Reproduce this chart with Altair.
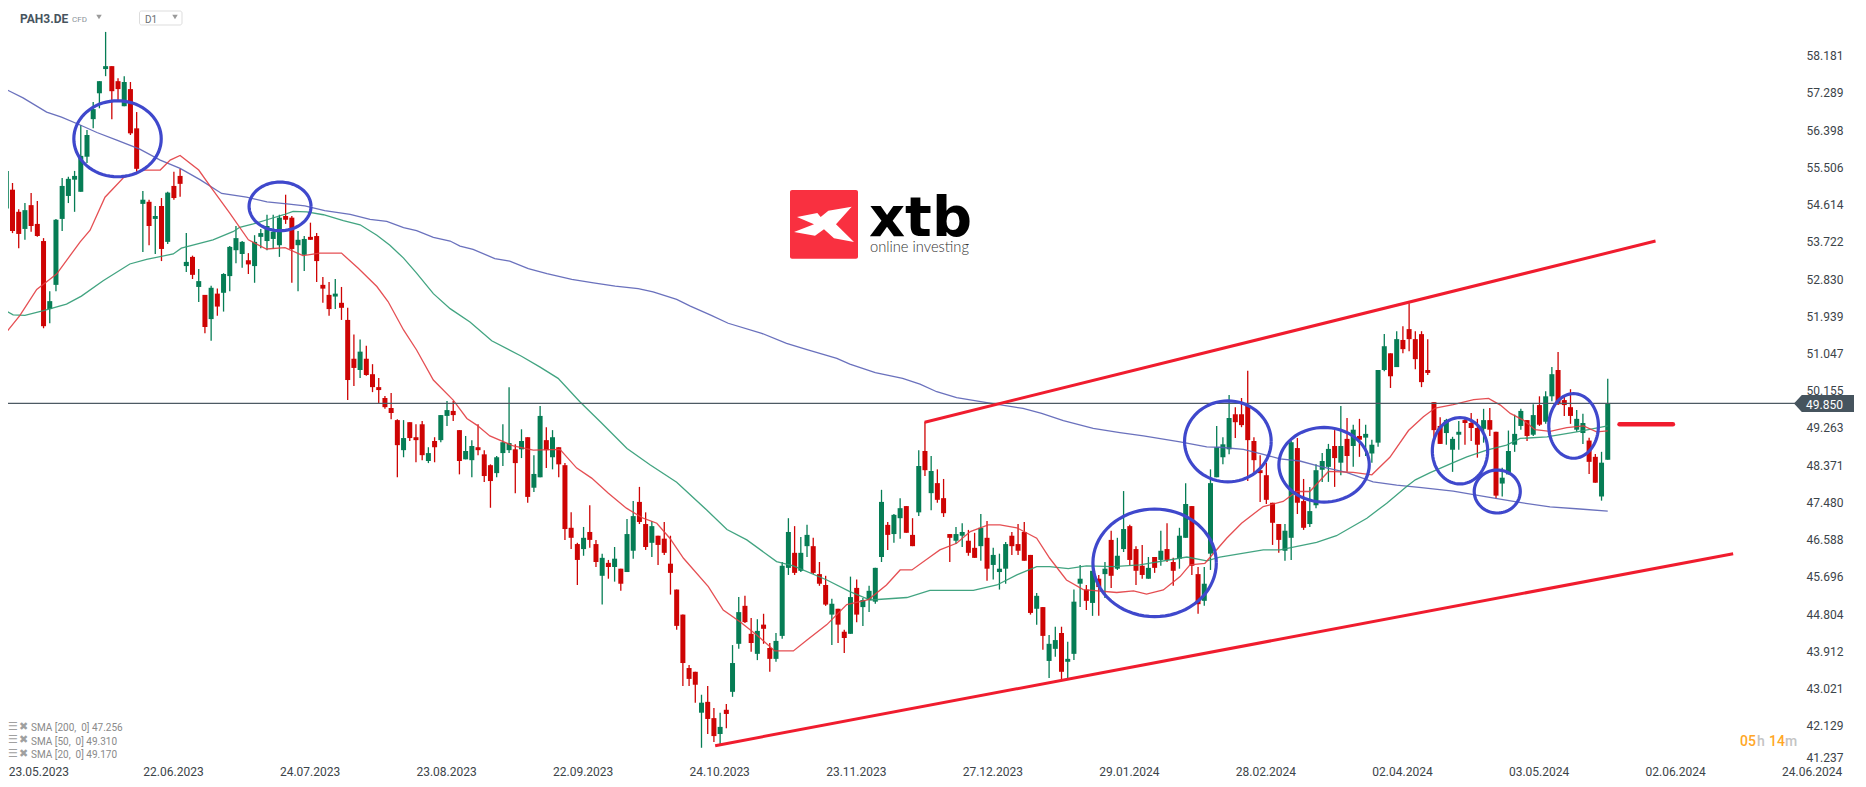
import numpy as np
import pandas as pd
import altair as alt

# candles, one entry per trading day, prices
highs = [55.80,55.13,54.50,54.65,54.89,54.70,53.81,52.54,54.27,55.25,
         55.28,55.42,56.52,56.40,57.07,57.57,58.75,57.93,57.64,57.69,
         57.55,56.83,54.94,54.73,54.58,54.77,54.92,55.40,55.47,53.93,
         53.39,53.07,52.45,52.67,52.60,52.97,53.62,54.10,53.74,53.45,
         53.88,54.03,54.37,54.37,54.37,54.85,54.34,53.98,53.86,54.18,
         53.93,52.88,52.76,52.83,52.64,52.14,51.50,51.38,51.23,50.79,
         50.46,50.03,50.10,49.47,49.45,49.40,49.35,49.43,48.80,49.04,
         49.57,49.91,49.91,49.21,49.07,48.97,49.35,48.73,48.39,48.59,
         49.35,50.24,48.87,49.23,49.04,48.61,49.79,49.28,49.21,48.80,
         48.42,47.24,46.51,46.89,47.41,46.58,46.25,46.10,46.41,45.89,
         47.08,47.51,47.85,47.24,47.03,46.68,47.01,46.68,45.39,44.79,
         43.58,43.42,42.87,43.08,42.55,42.44,42.65,44.06,45.21,45.24,
         44.71,44.68,44.81,44.11,44.35,46.05,47.10,46.91,46.65,46.94,
         46.63,46.05,45.72,45.17,44.93,44.43,45.70,45.63,45.19,45.48,
         45.91,47.78,47.01,47.20,47.58,47.39,47.10,48.73,49.41,48.59,
         48.27,48.04,46.72,46.89,46.98,46.82,46.75,47.20,47.03,46.39,
         46.25,46.53,46.77,46.96,47.01,46.22,45.31,44.97,44.30,44.50,
         44.50,44.14,45.39,45.98,45.50,46.01,45.74,46.05,46.80,46.63,
         47.75,46.94,46.43,46.46,46.17,46.17,46.80,46.98,46.15,46.87,
         47.94,47.39,45.93,45.93,48.27,49.31,49.04,50.05,49.76,49.98,
         50.63,49.04,48.61,48.42,47.47,46.96,46.96,48.95,49.02,48.04,
         47.85,48.39,48.66,48.88,49.21,49.79,49.50,49.34,49.48,49.34,
         48.98,50.65,51.51,51.05,51.58,51.70,52.25,51.58,51.58,51.39,
         49.88,49.52,49.48,49.05,49.43,49.48,49.62,49.48,49.72,49.74,
         49.17,48.31,49.20,49.58,49.72,49.45,49.83,50.02,50.14,50.72,
         51.08,50.05,50.19,49.69,49.60,49.03,48.64,48.69,50.44]

body_tops = [55.42,54.97,54.44,54.48,54.60,54.15,53.74,52.30,54.25,55.06,
             55.23,55.30,55.78,56.28,56.90,57.57,57.93,57.93,57.57,57.55,
             57.38,56.44,54.73,54.68,54.34,54.58,54.90,55.06,55.30,53.24,
             53.36,52.78,52.45,52.62,52.48,52.95,53.60,53.81,53.72,53.28,
             53.72,53.93,54.10,53.96,54.30,54.34,54.30,53.77,53.79,53.84,
             53.86,52.69,52.45,52.48,52.26,51.85,50.92,51.09,50.92,50.55,
             50.24,49.98,49.74,49.45,49.02,49.40,49.04,49.35,48.66,48.95,
             49.57,49.69,49.67,49.21,48.71,48.83,48.80,48.63,48.37,48.56,
             48.92,48.90,48.75,48.95,49.04,48.16,49.55,48.97,49.04,48.80,
             48.37,46.87,46.48,46.63,46.77,46.48,46.15,46.03,46.13,45.89,
             46.72,47.15,47.49,46.96,46.91,46.68,46.61,46.01,45.39,44.79,
             43.51,43.42,42.68,42.70,42.31,42.10,42.51,43.63,44.85,45.00,
             44.33,44.40,44.55,43.99,44.16,45.96,46.77,46.27,46.27,46.70,
             46.43,45.76,45.50,45.05,44.93,44.38,45.21,45.43,45.14,45.36,
             45.91,47.49,46.94,47.18,47.34,47.39,46.70,48.35,48.71,48.23,
             47.94,47.58,46.72,46.72,46.77,46.56,46.39,46.87,46.63,46.22,
             45.89,46.48,46.68,46.48,46.77,46.22,45.24,44.97,44.09,44.18,
             44.35,43.73,45.10,45.65,45.39,45.84,45.65,45.89,46.58,46.20,
             46.84,46.91,46.36,45.96,45.91,46.17,46.32,46.36,46.05,46.68,
             47.44,47.39,45.76,45.53,47.94,48.80,48.87,49.50,49.59,49.59,
             49.79,48.95,48.25,48.13,47.47,46.96,46.80,48.92,48.78,47.51,
             47.27,48.25,48.47,48.76,48.83,48.83,49.00,49.22,49.07,49.12,
             48.86,50.65,51.22,51.05,51.39,51.37,51.63,51.39,51.51,50.65,
             49.88,49.31,49.45,49.00,49.17,49.45,49.38,49.26,49.45,49.45,
             49.17,48.07,48.71,49.12,49.67,49.45,49.57,49.81,50.02,50.55,
             50.65,49.93,49.76,49.48,49.38,48.96,48.57,48.43,49.85]

body_bottoms = [54.52,53.98,53.91,54.03,54.10,53.86,51.70,52.11,52.69,54.27,
                54.82,55.21,54.92,55.76,56.66,57.28,57.86,57.33,57.38,56.97,
                56.32,55.47,54.63,54.10,54.27,53.55,53.72,54.77,55.11,53.14,
                52.93,52.64,51.68,51.87,52.17,52.50,52.90,53.52,53.43,53.18,
                53.14,53.84,53.74,53.79,53.64,54.25,53.55,53.64,53.41,53.77,
                53.26,52.60,52.11,52.41,52.14,50.41,50.70,50.65,50.53,50.24,
                50.17,49.76,49.62,48.85,48.73,49.02,48.97,48.61,48.47,48.80,
                48.97,49.55,49.57,48.47,48.51,48.49,48.73,48.11,47.99,48.18,
                48.66,48.73,48.42,48.75,47.61,47.83,48.08,48.73,48.56,48.39,
                46.84,46.63,46.10,46.36,46.58,46.05,45.72,45.93,45.93,45.53,
                45.81,46.32,47.01,46.41,46.51,46.46,46.27,45.79,44.52,43.63,
                43.25,43.11,42.44,42.29,41.88,41.93,42.41,42.94,44.09,44.61,
                44.11,43.85,44.45,43.73,43.73,44.28,45.91,45.79,45.84,46.43,
                45.79,45.53,45.03,44.79,44.55,44.23,44.33,44.79,44.97,45.14,
                45.10,46.17,46.70,46.72,47.10,46.75,46.43,47.24,48.25,47.70,
                47.54,47.22,46.63,46.56,46.68,46.27,46.15,46.43,45.89,45.98,
                45.81,45.89,46.43,46.32,46.08,44.83,44.93,44.28,43.68,43.97,
                43.42,43.66,43.85,45.53,45.12,45.07,45.45,45.76,45.72,45.89,
                46.36,46.10,45.84,45.74,45.65,45.91,46.10,46.10,45.84,46.13,
                46.63,45.96,45.04,45.12,46.25,48.08,48.56,48.75,49.40,49.33,
                48.97,48.49,48.18,47.54,46.99,46.58,46.32,46.63,47.47,46.87,
                46.96,47.41,48.26,48.33,48.54,48.43,48.59,48.83,48.98,49.03,
                48.65,48.91,50.65,50.50,50.72,51.15,51.39,50.91,50.36,50.58,
                49.21,48.88,49.14,48.74,49.10,49.38,49.26,48.86,49.24,49.22,
                47.64,47.93,48.15,48.86,49.31,49.07,49.10,49.34,49.41,50.02,
                49.83,49.81,49.55,49.22,49.14,48.45,47.95,47.62,48.50]

lows = [54.45,53.93,53.57,53.77,53.96,53.84,51.65,51.77,52.54,53.98,
        54.65,54.44,54.92,55.61,56.44,56.92,57.69,56.66,57.09,56.97,
        56.28,55.40,53.48,53.64,53.43,53.26,53.67,54.73,54.80,53.00,
        52.83,52.28,51.53,51.35,51.95,52.05,52.54,53.21,53.10,52.95,
        52.74,53.57,53.52,53.55,53.36,54.15,52.74,52.54,53.02,53.77,
        52.76,52.26,51.95,52.11,51.85,49.93,50.27,50.46,50.51,50.12,
        49.85,49.72,49.47,48.08,48.56,48.95,48.44,48.49,48.42,48.44,
        48.92,49.31,49.43,48.15,48.51,48.08,48.61,47.97,47.35,48.08,
        48.35,48.66,47.70,48.54,47.47,47.73,48.08,48.30,48.27,48.08,
        46.58,46.36,45.50,46.20,46.39,45.93,45.03,45.65,45.58,45.36,
        45.81,46.13,46.96,46.34,46.17,45.98,46.22,45.27,44.43,43.08,
        43.08,42.68,41.60,41.93,41.74,41.67,42.07,42.82,43.97,44.59,
        43.90,43.70,44.09,43.42,43.66,44.21,45.74,45.74,45.81,46.17,
        45.76,45.48,45.00,44.06,44.11,43.87,44.33,44.61,44.52,44.85,
        45.05,46.05,46.34,46.51,46.61,46.75,46.43,47.15,48.11,47.29,
        47.47,47.13,46.05,46.48,46.41,46.20,46.15,46.08,45.60,45.63,
        45.39,45.53,46.22,46.22,46.08,44.79,44.55,43.95,43.27,43.78,
        43.23,43.25,43.70,44.97,44.90,44.76,44.76,45.19,45.43,45.86,
        46.29,45.96,45.50,45.65,45.65,45.79,45.96,46.05,45.48,45.89,
        46.63,45.74,44.81,45.00,45.86,48.08,48.39,48.63,49.02,49.28,
        47.99,48.20,47.49,47.44,46.46,46.27,46.08,46.10,47.20,46.82,
        46.89,47.34,47.97,47.97,47.85,48.13,48.21,48.33,48.57,48.59,
        48.43,48.81,50.62,50.22,50.72,51.05,51.10,50.67,50.24,50.53,
        49.03,48.88,48.86,48.21,48.74,48.86,48.95,48.55,48.91,49.07,
        47.57,47.62,48.15,48.69,49.22,48.95,49.07,49.31,49.36,49.90,
        49.81,49.55,49.36,49.17,48.88,48.16,47.95,47.52,48.50]

directions = list("GRRGRRRGGG" "GGGGGGGRRG" "RRGRGRGRRG" "RGRGRGGGGR"
                  "GGGGGRRGGR" "RRRGRRRGRR" "RRRRGRRRGR" "GGRRGGRRRG"
                  "GGRGRGGRGR" "RRRGRRGRGR" "GGRRGRRRRR" "RRGRRGRGGR"
                  "RGRRGGGRGG" "RRRGRRGRGG" "GGRGGRRGRG" "RRRGGRRGRG"
                  "GGRRRRGRGG" "RGGGRGRGRG" "GRRRGRGRRG" "GRRGGGGGRR"
                  "RRRRRRGGRR" "GGGGRGRGRG" "GGGRGRRRRR" "RRGGGRRRGR"
                  "RGGGGRGRGG" "RRRGGRRGG")

# moving averages, vertices: candle number, price
sma200_x = [0,2.7,6.5,8.9,11.9,14.6,17.8,21.5,24.8,28,31.2,34.7,38.7,42,45.2,48.1,51.3,55.4,58.6,61.3,64,66.1,68.8,71.5,
            73.1,75.2,78.7,81.1,84.1,87.1,91.1,94.6,98.1,101.8,104.2,108,110.2,113.4,116.3,121.7,125.7,129,133.8,135.9,140,144.4,
            147.2,149.9,153.1,158.7,163.8,166.8,170.3,175.1,179.4,183.2,189.1,193.4,195.5,199.3,202.5,205.2,208.4,211.6,215.9,220.2,224,228,233.1,238.5,243.3,248.7,253.5,258]
sma200_y = [57.37,57.17,56.83,56.71,56.52,56.34,56.16,55.94,55.68,55.48,55.21,54.88,54.79,54.68,54.63,54.58,54.47,54.38,54.26,54.21,54.06,53.99,53.83,53.74,
            53.62,53.54,53.32,53.26,53.08,52.96,52.82,52.74,52.66,52.60,52.52,52.34,52.18,51.97,51.77,51.53,51.29,51.14,50.93,50.79,50.59,50.45,
            50.31,50.13,49.99,49.85,49.73,49.61,49.44,49.25,49.15,49.07,48.93,48.81,48.80,48.75,48.63,48.52,48.47,48.34,48.20,47.97,47.89,47.83,47.75,47.61,47.49,47.37,47.32,47.27]

sma50_x = [0,1.1,3,6,9.7,12.1,15.6,19.9,22.6,26.9,28.2,33.3,36.6,37.6,39.8,42,44.7,46.2,48.4,51.1,54.3,57,59.7,61.8,64,66.1,68.8,71.5,
           74.7,78.2,83,86,88.9,92.4,95.7,100,103.7,108,112.8,116.1,119.3,124.1,126.8,132.2,135.9,139.2,145.1,148.8,
           155.8,159.6,162.8,166,168.1,171.1,174,178.4,182.6,190.2,193.4,195.5,202.5,205.2,211.1,214.3,219.2,222.4,225.6,227,229.4,233.1,235.3,238.5,241.7,243.9,248.2,253,258]
sma50_y = [52.06,51.97,51.96,52.07,52.23,52.42,52.79,53.19,53.30,53.43,53.57,53.77,53.97,54.07,54.15,54.25,54.37,54.45,54.44,54.37,54.23,54.13,53.88,53.64,53.33,52.97,52.48,52.12,
           51.80,51.35,50.98,50.72,50.45,49.89,49.41,48.77,48.38,47.96,47.30,46.83,46.58,46.06,45.96,45.62,45.34,45.14,45.20,45.37,
           45.37,45.50,45.74,45.94,45.94,45.89,45.96,45.94,45.98,46.17,46.08,46.17,46.34,46.34,46.52,46.68,47.10,47.46,47.86,48.02,48.19,48.43,48.57,48.73,48.85,49.01,49.05,49.17,49.31]

sma20_x = [0,2.2,4.9,8.1,11.9,13.5,15.9,18.9,22,24.8,26.4,28,31,33.3,36,39,41.9,44.9,47.8,50.5,54,56.7,59.7,61.5,64,66.1,68.8,72,
           74.2,75.8,77.9,81.7,84.9,89.2,91.9,94.3,97,99.9,102.6,104.8,106.9,109.1,113.1,115.5,118.2,120.9,123.8,126.8,129,132.2,135.4,138.9,141.8,144,145.9,148.8,
           150.4,153.1,155.3,158.2,160.1,162.8,166,168.1,170.8,173.5,178.9,181.6,183.7,186.4,189.1,190.7,193.1,196.6,199,202.5,205.7,207.9,210,213,217,220,222.9,225.9,228.3,230.2,233.1,236.4,238.8,240.7,242.3,244.4,246.3,248.7,251.4,254.1,256.2,258]
sma20_y = [51.55,51.96,52.58,52.95,53.72,54.00,54.79,55.26,55.44,55.44,55.68,55.79,55.44,54.96,54.41,53.77,53.55,53.58,53.39,53.45,53.45,53.09,52.65,52.29,51.61,51.13,50.41,49.93,
           49.49,49.33,49.07,48.83,48.73,48.75,48.30,48.06,47.70,47.34,47.10,46.98,46.62,46.14,45.46,44.90,44.62,44.30,43.92,43.92,44.18,44.55,45.03,45.15,45.50,45.86,45.86,46.17,
           46.34,46.50,46.78,46.94,46.94,46.87,46.62,46.14,45.62,45.39,45.32,45.36,45.28,45.38,45.70,45.98,46.02,46.62,46.98,47.38,47.50,47.74,47.74,48.22,48.20,48.14,48.56,49.20,49.53,49.74,49.82,49.94,49.97,49.81,49.61,49.45,49.22,49.18,49.27,49.31,49.17,49.19]

# hand drawn channel, target level and circles on top of the candles
channel_upper_x = [147.96, 265.7]
channel_upper_y = [49.40, 53.74]
channel_lower_x = [114.2, 278.2]
channel_lower_y = [41.65, 46.25]
target_x = [259.9, 268.5]
target_y = [49.35, 49.35]
circle_x = [17.92, 44.1, 185.0, 196.8, 212.3, 234.2, 240.2, 252.5]
circle_y = [56.19, 54.57, 46.03, 48.94, 48.38, 48.715, 47.74, 49.31]
circle_rx = [7.04, 4.99, 9.94, 6.98, 7.28, 4.46, 3.71, 4.0]
circle_ry = [0.91, 0.582, 1.289, 0.97, 0.894, 0.795, 0.515, 0.774]

last_price = 49.85
price_ticks = [58.181,57.289,56.398,55.506,54.614,53.722,52.830,51.939,51.047,50.155,49.263,48.371,47.480,46.588,45.696,44.804,43.912,43.021,42.129]
date_ticks = [0.3,22,44,66,88,110,132,154,176,198,220,242,264,286]
date_labels = ["23.05.2023","22.06.2023","24.07.2023","23.08.2023","22.09.2023","24.10.2023","23.11.2023",
               "27.12.2023","29.01.2024","28.02.2024","02.04.2024","03.05.2024","02.06.2024","24.06.2024"]
sma_legend = ["SMA [200,\u00a0 0] 47.256", "SMA [50,\u00a0 0] 49.310", "SMA [20,\u00a0 0] 49.170"]

GREEN = "#067D55"
RED = "#CE0404"
FONT = "Roboto"

candles = pd.DataFrame({"idx": np.arange(len(highs)), "high": highs, "low": lows,
                        "top": body_tops, "bottom": body_bottoms, "dir": directions})

x_scale = alt.Scale(domain=[0.274, 288.974], nice=False, zero=False)
y_scale = alt.Scale(domain=[41.235, 59.323], nice=False, zero=False)
x_axis = alt.Axis(values=date_ticks, labelExpr=f"{date_labels}[round(datum.value / 22)]", title=None, grid=False,
                  domain=False, ticks=False, labelAlign="left", labelBaseline="middle", labelPadding=8,
                  labelFont=FONT, labelFontSize=12, labelColor="#3c4449", labelOverlap=False, labelFlush=False)
y_axis = alt.Axis(values=price_ticks + [41.362], labelExpr="datum.value < 41.4 ? '41.237' : format(datum.value, '.3f')",
                  title=None, grid=False, domain=False, ticks=False, orient="right", labelPadding=6,
                  labelFont=FONT, labelFontSize=12, labelColor="#3c4449", labelOverlap=False, labelFlush=False)
dir_color = alt.Color("dir:N", scale=alt.Scale(domain=["G", "R"], range=[GREEN, RED]), legend=None)

wicks = alt.Chart(candles).mark_rule(strokeWidth=1.3).encode(
    x=alt.X("idx:Q", scale=x_scale, axis=x_axis),
    y=alt.Y("low:Q", scale=y_scale, axis=y_axis),
    y2="high:Q",
    color=dir_color,
)
bodies = alt.Chart(candles).mark_rule(strokeWidth=5).encode(
    x=alt.X("idx:Q", scale=x_scale, axis=x_axis),
    y=alt.Y("bottom:Q", scale=y_scale, axis=y_axis),
    y2="top:Q",
    color=dir_color,
)


def line(xs, ys, color, width, opacity=1.0, cap="butt"):
    df = pd.DataFrame({"x": xs, "y": ys})
    return alt.Chart(df).mark_line(color=color, strokeWidth=width, opacity=opacity, strokeCap=cap, clip=False).encode(
        x=alt.X("x:Q", scale=x_scale, axis=x_axis),
        y=alt.Y("y:Q", scale=y_scale, axis=y_axis),
        order="x:Q",
    )


price_line = alt.Chart(pd.DataFrame({"y": [last_price]})).mark_rule(color="#4d5a63", strokeWidth=1.2).encode(
    y=alt.Y("y:Q", scale=y_scale, axis=y_axis),
)

# circles as closed lines in price space
rows = []
for n in range(len(circle_x)):
    for step, t in enumerate(np.linspace(0, 2 * np.pi, 73)):
        rows.append({"name": n, "step": step,
                     "x": circle_x[n] + circle_rx[n] * np.cos(t),
                     "y": circle_y[n] + circle_ry[n] * np.sin(t)})
circles = alt.Chart(pd.DataFrame(rows)).mark_line(color="#3F48CC", strokeWidth=3.2, clip=False).encode(
    x=alt.X("x:Q", scale=x_scale, axis=x_axis),
    y=alt.Y("y:Q", scale=y_scale, axis=y_axis),
    detail="name:N",
    order="step:Q",
)


# everything below is page furniture, placed in page pixels (the page margin is 8px)
def text(label, px, py, size, color, weight="normal", font=FONT, align="left", baseline="middle"):
    return alt.Chart().mark_text(fontSize=size, color=color, fontWeight=weight, font=font, align=align,
                                 baseline=baseline).encode(
        x=alt.value(px - 8), y=alt.value(py - 8), text=alt.value(label))


def rect(x0, x1, y0, y1, **kw):
    return alt.Chart().mark_rect(**kw).encode(
        x=alt.value(x0 - 8), x2=alt.value(x1 - 8), y=alt.value(y0 - 8), y2=alt.value(y1 - 8))


def shape(path, px, py, size, color):
    return alt.Chart().mark_point(shape=path, size=size, filled=True, color=color, opacity=1, strokeWidth=0).encode(
        x=alt.value(px - 8), y=alt.value(py - 8))


LOGO_X = ("M 0.83,-0.53 L 0.13,-0.41 L -0.10,-0.22 L -0.20,-0.34 L -0.81,-0.22 L -0.30,0 L -0.90,0.23 L -0.27,0.34 "
          "L 0,0.15 L 0.30,0.42 L 0.90,0.53 L 0.36,0 Z")
PRICE_TAG = "M -1,0 L -0.74,-0.283 L 1,-0.283 L 1,0.283 L -0.74,0.283 Z"

furniture = [
    text("PAH3.DE", 20, 19, 12, "#47545e", weight="bold"),
    text("CFD", 72, 19.5, 8, "#8a9298"),
    shape("triangle-down", 99, 17, 30, "#9a9a9a"),
    rect(139.5, 182, 11, 25, fill="#ffffff", stroke="#dddddd", strokeWidth=1, cornerRadius=2),
    text("D1", 145, 20, 10, "#6a6f73"),
    shape("triangle-down", 175, 17, 30, "#9a9a9a"),
    rect(790, 858, 190, 258.7, fill="#F93040", cornerRadius=2),
    shape(LOGO_X, 824, 224.3, 4444, "#ffffff"),
    text("xtb", 869, 235.7, 56, "#000000", weight="bold", font="DejaVu Sans", baseline="alphabetic"),
    text("online investing", 870, 251.5, 14.7, "#333333", weight=300, font="Lato", baseline="alphabetic"),
    shape(PRICE_TAG, 1824, 403.5, 3600, "#46545E"),
    text("49.850", 1806, 404.5, 12, "#ffffff"),
    text("05", 1740, 742, 14, "#FFA726", weight=500),
    text("h", 1757, 742, 14, "#c4c4c4", weight=500),
    text("14", 1769, 742, 14, "#FFA726", weight=500),
    text("m", 1785, 742, 14, "#c4c4c4", weight=500),
]
for row, legend_text in zip([728, 741.7, 755.3], sma_legend):
    furniture.append(text("☰", 8, row - 1.5, 11, "#a0a0a0", font="DejaVu Sans"))
    furniture.append(text("✖", 19, row - 1.5, 11, "#a0a0a0", font="DejaVu Sans"))
    furniture.append(text(legend_text, 31, row, 10, "#8a8a8a"))

chart = alt.layer(
    wicks,
    bodies,
    line(sma200_x, sma200_y, "#5A62B6", 1.3, 0.9),
    line(sma50_x, sma50_y, "#2E9A73", 1.3, 0.9),
    line(sma20_x, sma20_y, "#E23C40", 1.3, 0.9),
    price_line,
    line(channel_upper_x, channel_upper_y, "#F01C2E", 3),
    line(channel_lower_x, channel_lower_y, "#F01C2E", 3),
    line(target_x, target_y, "#F01C2E", 4.5, cap="round"),
    circles,
    *furniture,
).properties(
    width=1792,
    height=755,
    autosize="none",
    padding={"left": 0, "top": 0, "right": 58, "bottom": 16},
).configure_view(stroke=None).configure_axis(labelOverlap=False)

chart.save("out.html", embed_options={"renderer": "svg", "actions": False})
